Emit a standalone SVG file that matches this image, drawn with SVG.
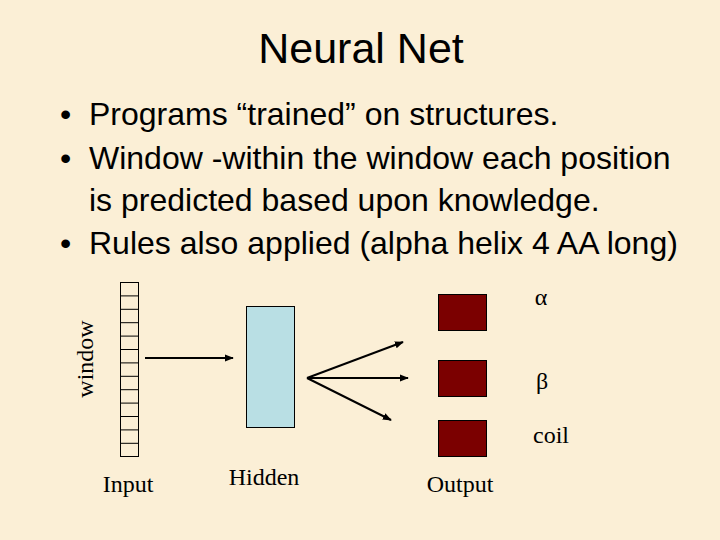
<svg xmlns="http://www.w3.org/2000/svg" width="720" height="540" viewBox="0 0 720 540">
<defs>
<marker id="ah" viewBox="0 0 10 10" refX="9" refY="5" markerWidth="4.5" markerHeight="4.5" orient="auto" markerUnits="strokeWidth">
<path d="M0,1 L10,5 L0,9 z" fill="#000"/>
</marker>
<style>
.t{font-family:"Liberation Sans",Arial,sans-serif;fill:#000}
.s{font-family:"Liberation Serif","Times New Roman",serif;fill:#000;font-size:24px}
.cell{fill:none;stroke:#000;stroke-width:1}
.out{fill:#7B0000;stroke:#000;stroke-width:1}
.ln{stroke:#000;stroke-width:2;fill:none;marker-end:url(#ah)}
</style>
</defs>
<rect width="720" height="540" fill="#FBEFD6"/>
<text class="t" x="361" y="63" font-size="43" text-anchor="middle">Neural Net</text>
<g id="bullets" class="t" font-size="32">
<text x="60" y="125">•</text><text x="89" y="125">Programs “trained” on structures.</text>
<text x="60" y="169">•</text><text x="89" y="169">Window -within the window each position</text>
<text x="89" y="211">is predicted based upon knowledge.</text>
<text x="60" y="254">•</text><text x="89" y="254">Rules also applied (alpha helix 4 AA long)</text>
</g>
<g id="input">
<rect class="cell" x="120.5" y="282.5" width="18" height="174"/>
<path class="cell" d="M120.5 295.9H138.5M120.5 309.3H138.5M120.5 322.7H138.5M120.5 336.1H138.5M120.5 349.5H138.5M120.5 362.9H138.5M120.5 376.3H138.5M120.5 389.7H138.5M120.5 403.1H138.5M120.5 416.5H138.5M120.5 429.9H138.5M120.5 443.3H138.5"/>
<text class="s" x="0" y="0" font-size="25" transform="translate(93 359) rotate(-90)" text-anchor="middle">window</text>
<text class="s" x="128" y="492" text-anchor="middle">Input</text>
</g>
<g id="hidden">
<rect x="246.5" y="306.5" width="48" height="121" fill="#B9DFE4" stroke="#000" stroke-width="1"/>
<text class="s" x="264" y="485" text-anchor="middle">Hidden</text>
</g>
<g id="output">
<rect class="out" x="438.5" y="294.5" width="48" height="36"/>
<rect class="out" x="438.5" y="360.5" width="48" height="36"/>
<rect class="out" x="438.5" y="420.5" width="48" height="36"/>
<text class="s" x="541" y="305" text-anchor="middle">α</text>
<text class="s" x="542" y="389" text-anchor="middle">β</text>
<text class="s" x="551" y="443" text-anchor="middle">coil</text>
<text class="s" x="460" y="492" text-anchor="middle">Output</text>
</g>
<g id="connectors">
<line class="ln" x1="145" y1="358" x2="233" y2="358"/>
<line class="ln" x1="307" y1="378" x2="403" y2="342"/>
<line class="ln" x1="307" y1="378" x2="408" y2="378"/>
<line class="ln" x1="307" y1="378" x2="391" y2="420"/>
</g>
</svg>
